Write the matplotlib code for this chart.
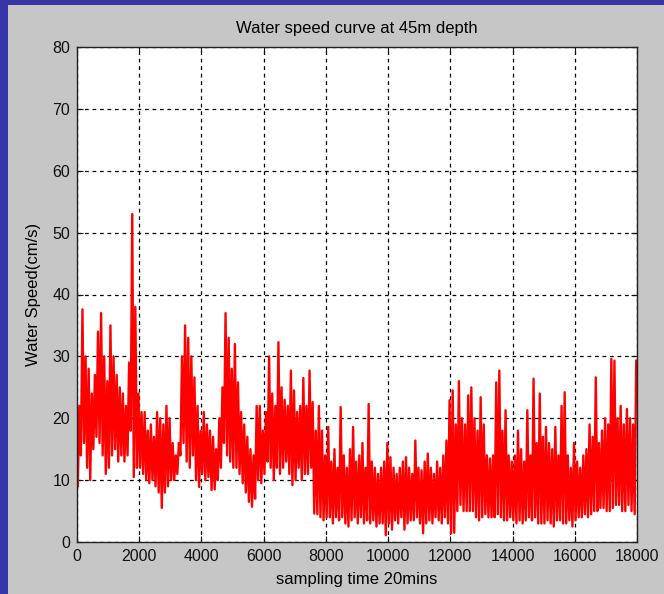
import numpy as np
import matplotlib
matplotlib.use("Agg")
import matplotlib.pyplot as plt
from matplotlib.patches import Rectangle

plt.rcParams['font.family'] = ['Liberation Sans', 'DejaVu Sans']

# Readings per 100-sample bin: lowest and highest water speed (cm/s)
bin_size = 100
speed_lo = [
    9, 14, 16, 12, 10, 15, 17, 16, 14, 11,
    12, 14, 15, 13, 14, 13, 14, 18, 10.5, 12,
    12, 11, 10, 9.5, 10, 9, 8, 5.5, 8, 9,
    10, 10, 11, 14, 16, 13, 12, 14, 10, 8.9,
    11, 10, 10.5, 8.4, 8.5, 10, 12, 16, 14, 13,
    12, 12, 11, 9.5, 8, 6.5, 5.7, 7, 10, 9.5,
    11, 13, 12, 10, 12, 11, 12, 13, 11, 9.2,
    10, 12, 10, 11, 11, 12, 4.6, 4.5, 4, 3.5,
    4, 4, 3, 4, 3.5, 4, 3, 2.5, 3.5, 4,
    3, 4, 3, 3.5, 3, 3.5, 2.5, 3, 3, 1.1,
    3, 2, 3.5, 3, 4, 2, 3, 3.5, 3.5, 4,
    3, 1.4, 3, 3.5, 3, 4, 3.5, 3, 4, 3,
    1.4, 1.5, 5, 6, 5, 5, 5, 5, 4, 3.5,
    4, 4.5, 4, 4, 4, 4.5, 4, 3.5, 3.5, 4,
    3.5, 3, 3.5, 3, 3.5, 4, 3.5, 4, 3, 3,
    3, 3.5, 3, 2.5, 3.5, 3.5, 3, 3, 3.5, 2.5,
    3.5, 4, 4, 4.5, 4, 4.5, 5, 5, 5.5, 5.5,
    5, 5, 5.5, 6, 6, 5, 5, 6, 5, 4.5,
]
speed_hi = [
    22, 37.6, 30, 28, 24, 27, 34, 37, 30, 26,
    35, 30, 27, 25, 24, 22, 29, 53, 38, 24,
    21, 21, 18, 19, 17, 21, 20, 19, 22, 20,
    16, 14, 16, 30, 35, 33, 30, 26.6, 22, 18,
    21, 19, 18, 17, 15, 20, 25, 37, 33, 28,
    32, 25.8, 21, 19, 17, 15, 14, 22, 22, 18,
    21, 30, 24, 22, 32.3, 25, 23, 22, 27.7, 24.5,
    21, 22, 26.5, 22, 27.7, 22.6, 18, 22, 18, 14,
    18.6, 13, 15, 12, 21.8, 14, 12, 15, 18.6, 13,
    14, 16, 12, 22.3, 13, 12, 11, 12, 13, 16,
    13.7, 12, 11, 12, 13, 13.7, 12, 11, 16.4, 12,
    11.6, 13, 14.3, 12, 11, 13, 12, 14, 16.4, 22.9,
    24.5, 19, 26, 20, 19, 23.7, 25, 20, 18, 23.4,
    19, 14, 13.5, 14, 25.8, 27.7, 18, 21.3, 14, 13,
    14, 18, 15, 13, 21.3, 14, 26.4, 16, 24, 17,
    18.6, 16, 15, 18.6, 14, 22, 24.2, 14, 12, 16,
    13, 12, 14, 15, 19, 17, 26.6, 16, 18, 20,
    19, 29.6, 29.3, 20, 22, 19, 21.5, 20, 19, 29.3,
]

x_ticks = [0, 2000, 4000, 6000, 8000, 10000, 12000, 14000, 16000, 18000]
y_ticks = [0, 10, 20, 30, 40, 50, 60, 70, 80]

# interleave low/high readings inside each bin
n_bins = len(speed_lo)
sample = (np.repeat(np.arange(n_bins) * bin_size, 2)
          + np.tile([bin_size * 0.25, bin_size * 0.75], n_bins))
speed = np.column_stack([speed_lo, speed_hi]).ravel()

fig = plt.figure(figsize=(6.64, 5.94), dpi=100, facecolor="#3636a6")
# grey figure panel on top of the blue slide background
fig.patches.append(Rectangle((8 / 664, 0), 1, 1 - 5 / 594, transform=fig.transFigure,
                             facecolor="#c6c6c6", edgecolor="none", zorder=-10))

ax = fig.add_axes([77 / 664, 1 - 542 / 594, 560 / 664, 495 / 594])
ax.set_facecolor("white")
ax.plot(sample, speed, color="red", lw=1.7, solid_joinstyle="round")

ax.set_xlim(0, 18000)
ax.set_ylim(0, 80)
ax.set_xticks(x_ticks)
ax.set_yticks(y_ticks)
ax.grid(True, color="black", linestyle=(0, (3, 3)), linewidth=0.9)
ax.tick_params(direction="in", length=4, width=0.8, top=True, right=True,
               labelsize=11.5, colors="#111111", pad=5)
for s in ax.spines.values():
    s.set_color("#222222")
    s.set_linewidth(1.0)

ax.set_title("Water speed curve at 45m depth", fontsize=12, pad=10)
ax.set_xlabel("sampling time 20mins", fontsize=12, labelpad=6)
ax.set_ylabel("Water Speed(cm/s)", fontsize=12, labelpad=8)

fig.savefig("out.png", dpi=100, facecolor=fig.get_facecolor())
